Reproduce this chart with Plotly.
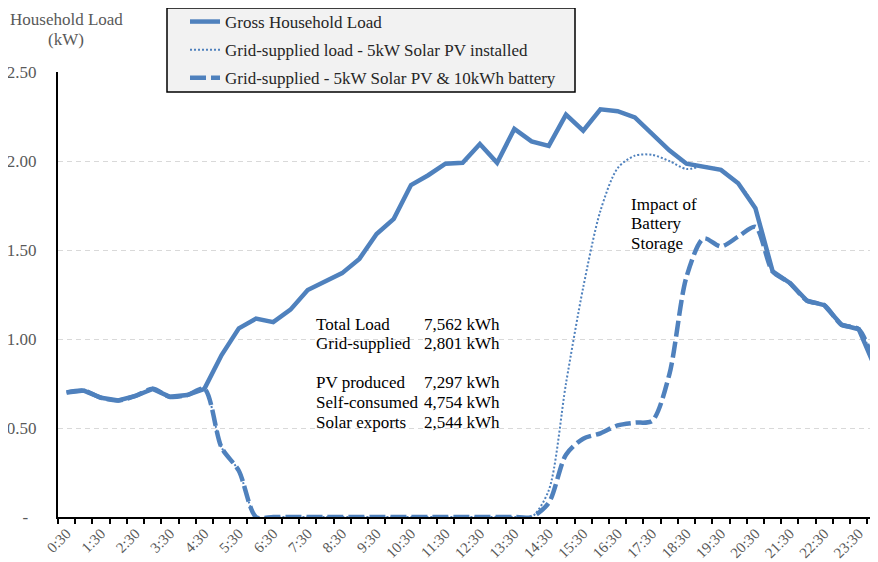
import plotly.graph_objects as go

# --- half-hourly profile (kW)
times = ["0:30", "1:00", "1:30", "2:00", "2:30", "3:00", "3:30", "4:00", "4:30", "5:00",
         "5:30", "6:00", "6:30", "7:00", "7:30", "8:00", "8:30", "9:00", "9:30", "10:00",
         "10:30", "11:00", "11:30", "12:00", "12:30", "13:00", "13:30", "14:00", "14:30", "15:00",
         "15:30", "16:00", "16:30", "17:00", "17:30", "18:00", "18:30", "19:00", "19:30", "20:00",
         "20:30", "21:00", "21:30", "22:00", "22:30", "23:00", "23:30", "0:00"]

gross = [0.70, 0.71, 0.67, 0.655, 0.68, 0.72, 0.675, 0.685, 0.72, 0.91,
         1.06, 1.115, 1.095, 1.165, 1.275, 1.32, 1.37, 1.45, 1.59, 1.675,
         1.865, 1.92, 1.985, 1.99, 2.095, 1.99, 2.18, 2.11, 2.085, 2.26,
         2.17, 2.29, 2.28, 2.245, 2.155, 2.06, 1.985, 1.97, 1.95, 1.875,
         1.735, 1.38, 1.315, 1.215, 1.19, 1.08, 1.055, 0.83]

grid_pv = [0.70, 0.71, 0.67, 0.655, 0.68, 0.72, 0.675, 0.685, 0.72, 0.39,
           0.26, 0.0, 0.0, 0.0, 0.0, 0.0, 0.0, 0.0, 0.0, 0.0,
           0.0, 0.0, 0.0, 0.0, 0.0, 0.0, 0.0, 0.0, 0.15, 0.75,
           1.29, 1.72, 1.96, 2.03, 2.035, 2.0, 1.955, 1.97, 1.95, 1.875,
           1.735, 1.38, 1.315, 1.215, 1.19, 1.08, 1.055, 0.83]

grid_batt = [0.70, 0.71, 0.67, 0.655, 0.68, 0.72, 0.675, 0.685, 0.72, 0.39,
             0.26, 0.0, 0.0, 0.0, 0.0, 0.0, 0.0, 0.0, 0.0, 0.0,
             0.0, 0.0, 0.0, 0.0, 0.0, 0.0, 0.0, 0.0, 0.08, 0.35,
             0.44, 0.47, 0.515, 0.53, 0.54, 0.80, 1.35, 1.565, 1.52, 1.575,
             1.63, 1.38, 1.315, 1.215, 1.19, 1.08, 1.055, 0.83]

stat_names = ["Total Load", "Grid-supplied", "", "PV produced", "Self-consumed", "Solar exports"]
stat_values = ["7,562 kWh", "2,801 kWh", "", "7,297 kWh", "4,754 kWh", "2,544 kWh"]
note_lines = ["Impact of", "Battery", "Storage"]
title_lines = ["Household Load", "(kW)"]

y_ticks = [0, 0.5, 1.0, 1.5, 2.0, 2.5]
y_labels = ["-\u00a0\u00a0", "0.50", "1.00", "1.50", "2.00", "2.50"]

blue = "#4F81BD"
font = '"Liberation Serif", "Times New Roman", serif'

# page is drawn with an 8px body margin, so figure coords = page coords - 8
W, H = 870, 554
L, T, B = 50, 64, 45
pw, ph = W - L, H - T - B


def px(x):
    return (x - L) / pw


def py(y):
    return (H - B - y) / ph


def add_lines(fig, lines, x, y0, step, anchor, color="black"):
    for i, s in enumerate(lines):
        if s:
            fig.add_annotation(text=s, xref="paper", yref="paper", x=px(x), y=py(y0 + i * step),
                               xanchor=anchor, yanchor="middle", showarrow=False,
                               font=dict(family=font, size=17, color=color))


fig = go.Figure()
fig.add_trace(go.Scatter(x=times, y=grid_pv, mode="lines", name="Grid-supplied load - 5kW Solar PV installed",
                         line=dict(color=blue, width=2, dash="2px,2px", shape="spline", smoothing=0.8),
                         legendrank=2, legendgroup="b"))
fig.add_trace(go.Scatter(x=times, y=grid_batt, mode="lines", name="Grid-supplied - 5kW Solar PV & 10kWh battery",
                         line=dict(color=blue, width=4.5, dash="16px,5px", shape="spline", smoothing=0.8),
                         legendrank=3, legendgroup="c"))
fig.add_trace(go.Scatter(x=times, y=gross, mode="lines", name="Gross Household Load",
                         line=dict(color=blue, width=4.5), legendrank=1, legendgroup="a"))

add_lines(fig, stat_names, 306, 316, 19.6, "left")
add_lines(fig, stat_values, 494, 316, 19.6, "right")
add_lines(fig, note_lines, 621, 196, 19.6, "left")
add_lines(fig, title_lines, 58, 11, 20, "center", color="#595959")

# legend frame
fig.add_shape(type="rect", xref="paper", yref="paper", x0=px(159), x1=px(567), y0=py(84), y1=py(0),
              fillcolor="#F2F2F2", line=dict(color="black", width=1.5), layer="above")

fig.update_layout(
    width=W, height=H,
    margin=dict(l=L, r=0, t=T, b=B, autoexpand=False),
    paper_bgcolor="white", plot_bgcolor="white",
    font=dict(family=font, size=17, color="#595959"),
    showlegend=True,
    legend=dict(x=px(177), xanchor="left", y=py(-4), yanchor="top",
                bgcolor="rgba(0,0,0,0)", borderwidth=0,
                font=dict(family=font, size=17, color="#262626"),
                tracegroupgap=3, itemwidth=30),
    xaxis=dict(type="category", categoryorder="array", categoryarray=times,
               range=[-0.5, 47.12], tickmode="array", tickvals=times,
               ticktext=[t if i % 2 == 0 else "" for i, t in enumerate(times)],
               tickson="boundaries", ticks="outside", ticklen=5, tickwidth=2, tickcolor="black",
               tickangle=-45, tickfont=dict(size=15, color="#595959"),
               showline=True, linecolor="black", linewidth=2, showgrid=False, zeroline=False),
    yaxis=dict(range=[0, 2.5], tickmode="array", tickvals=y_ticks, ticktext=y_labels,
               showline=True, linecolor="black", linewidth=2, ticks="",
               showgrid=True, gridcolor="#D9D9D9", gridwidth=1, griddash="5px,4px",
               zeroline=False, ticklabelstandoff=16, tickfont=dict(size=17, color="#595959")),
)

fig.write_html("out.html")
